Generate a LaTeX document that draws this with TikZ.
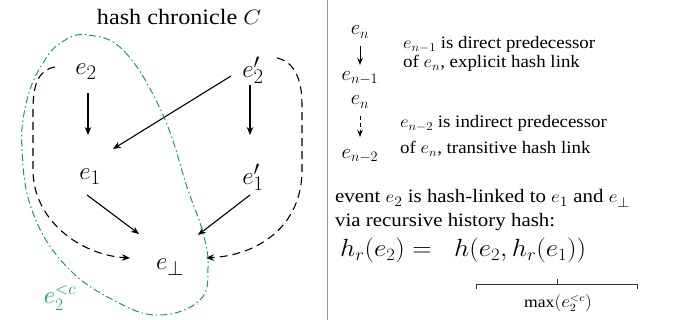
\documentclass[tikz,border=0pt]{standalone}
\usepackage{fontspec}
\setmainfont{Liberation Serif}
\usetikzlibrary{arrows.meta}
\definecolor{grn}{RGB}{20,155,115}
\definecolor{sepgray}{RGB}{150,150,150}
\newcommand{\wideby}[2]{\scalebox{#1}[1]{#2}}
\begin{document}
\begin{tikzpicture}[x=1pt,y=-1pt,
  ev/.style={font=\fontsize{32}{34}\selectfont, inner sep=0pt},
  lev/.style={font=\fontsize{22}{24}\selectfont, inner sep=0pt},
  ltxt/.style={font=\fontsize{17.5}{20}\selectfont, inner sep=0pt, anchor=base west},
  btxt/.style={font=\fontsize{19}{23}\selectfont, inner sep=0pt, anchor=base west},
  lnk/.style={-{Stealth[length=8pt,width=6.5pt]}, line width=1.1pt},
  dlnk/.style={-{Stealth[length=8pt,width=6.5pt]}, line width=1.1pt, dash pattern=on 8pt off 5pt},
  slnk/.style={-{Stealth[length=7pt,width=5.5pt]}, line width=1pt},
  sdlnk/.style={-{Stealth[length=7pt,width=5.5pt]}, line width=1pt, dash pattern=on 4pt off 3pt}]
\useasboundingbox (0,0) rectangle (673,320);

% title
\node[font=\fontsize{22}{24}\selectfont, inner sep=0pt, anchor=base] (title) at (179,25) {\wideby{1.1}{hash chronicle $C$}};

% events
\node[ev] (e2) at (86,72) {$e_2$};
\node[ev] (e2p) at (253,70) {$e_2'$};
\node[ev] (e1) at (90,177) {$e_1$};
\node[ev] (e1p) at (253,177) {$e_1'$};
\node[ev] (eb) at (170,267) {$e_\bot$};

\coordinate (a1) at (88,93);  \coordinate (a2) at (88,135);
\coordinate (b1) at (250,85); \coordinate (b2) at (250,135);
\coordinate (c1) at (231,76); \coordinate (c2) at (113,149);
\coordinate (d1) at (87,195); \coordinate (d2) at (139,234);
\coordinate (f1) at (250,195); \coordinate (f2) at (198,235);
\draw[lnk] (a1) -- (a2);
\draw[lnk] (b1) -- (b2);
\draw[lnk] (c1) -- (c2);
\draw[lnk] (d1) -- (d2);
\draw[lnk] (f1) -- (f2);

% transitive dashed links
\coordinate (l1) at (55,67);
\coordinate (l2) at (130,258);
\draw[dlnk] (l1) .. controls (38,70) and (33,85) .. (33,110)
  -- (33,170) .. controls (33,220) and (80,255) .. (l2);
\coordinate (r1) at (277,58);
\coordinate (r2) at (206,258);
\draw[dlnk] (r1) .. controls (295,62) and (302,80) .. (302,105)
  -- (302,170) .. controls (302,225) and (260,255) .. (r2);

% green closure
\draw[grn, line width=1pt, dash pattern=on 7pt off 3pt on 1.5pt off 3pt]
  plot[smooth cycle, tension=0.7] coordinates {(88,35) (125,52) (163,115) (187,187) (203,233) (208,268) (200,300) (160,315) (117,302) (67,267) (33,213) (22,150) (27,100) (43,63) (62,42)};
\node[grn, font=\fontsize{26}{28}\selectfont, inner sep=0pt] (lab) at (60,298) {$e_2^{<c}$};

% separator
\draw[sepgray, line width=0.8pt] (327,0) -- (327,320);

% legend
\node[lev] (n1) at (360,32) {$e_n$};
\node[lev] (m1) at (360,78) {$e_{n-1}$};
\coordinate (g1) at (360,46); \coordinate (g2) at (360,65);
\draw[slnk] (g1) -- (g2);
\node[ltxt] (t1a) at (403,49) {\wideby{1.08}{$e_{n-1}$ is direct predecessor}};
\node[ltxt] (t1b) at (403,68) {\wideby{1.08}{of $e_n$, explicit hash link}};

\node[lev] (n2) at (360,102) {$e_n$};
\node[lev] (m2) at (360,156) {$e_{n-2}$};
\coordinate (h1) at (360,116); \coordinate (h2) at (360,137);
\draw[sdlnk] (h1) -- (h2);
\node[ltxt] (t2a) at (400,128) {\wideby{1.08}{$e_{n-2}$ is indirect predecessor}};
\node[ltxt] (t2b) at (400,154) {\wideby{1.08}{of $e_n$, transitive hash link}};

\node[btxt] (t3a) at (335,203) {\wideby{1.1}{event $e_2$ is hash-linked to $e_1$ and $e_\bot$}};
\node[btxt] (t3b) at (335,227) {\wideby{1.1}{via recursive history hash:}};
\node[font=\fontsize{24}{26}\selectfont, inner sep=0pt, anchor=base west] (eq) at (340,257) {\wideby{1.08}{$h_r(e_2) =\;\; h(e_2, h_r(e_1))$}};

% brace
\coordinate (k1) at (476,289); \coordinate (k2) at (637,289);
\draw[black!80, line width=0.9pt] (k1) -- (476,284) -- (637,284) -- (k2);
\draw[black!80, line width=0.9pt] (557,284) -- (557,279);
\node[font=\fontsize{16}{18}\selectfont, inner sep=0pt] (mx) at (558,303) {\wideby{1.1}{max$(e_2^{<c})$}};
\end{tikzpicture}
\end{document}
